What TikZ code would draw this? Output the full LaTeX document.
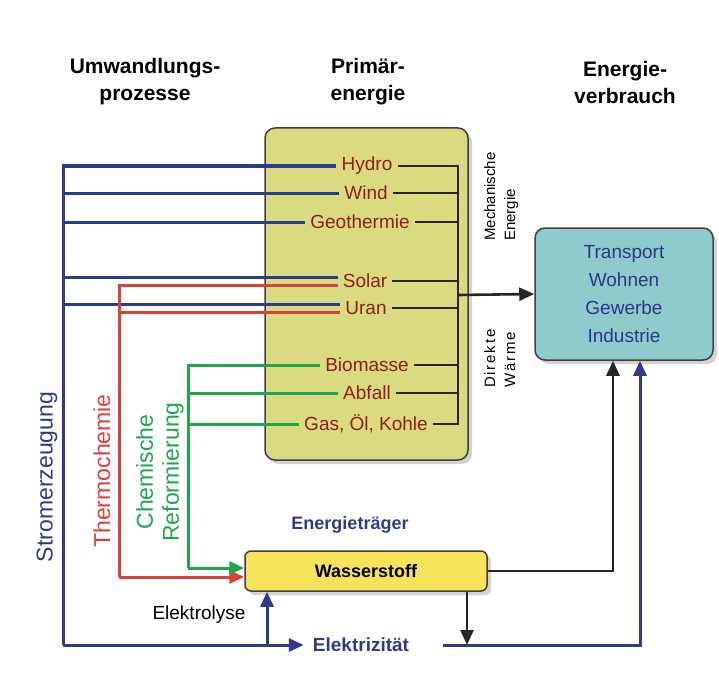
\documentclass[tikz,border=0pt]{standalone}
\usepackage{fontspec}
\setmainfont{Liberation Sans}
\usetikzlibrary{arrows.meta,shadows,positioning}

\definecolor{stromblau}{HTML}{2E3A8C}
\definecolor{thermorot}{HTML}{D9413A}
\definecolor{reformgruen}{HTML}{1FA64E}
\definecolor{quelltext}{HTML}{8E1F1F}
\definecolor{primgelb}{HTML}{DADA80}
\definecolor{verbtuerkis}{HTML}{8FCACC}
\definecolor{wstoffgelb}{HTML}{F6E35C}
\definecolor{verbtext}{HTML}{2E3585}

\tikzset{
  head/.style={font=\bfseries\fontsize{21}{27}\selectfont, align=center},
  quelle/.style={text=quelltext, font=\fontsize{19}{22}\selectfont, inner sep=5pt},
  box/.style={draw=black!75, line width=1.5pt, rounded corners=10pt,
    drop shadow={shadow xshift=4pt, shadow yshift=-4pt, opacity=0.35}},
  strom/.style={draw=stromblau, line width=3pt},
  thermo/.style={draw=thermorot, line width=3pt},
  reform/.style={draw=reformgruen, line width=3pt},
  mech/.style={draw=black!85, line width=2.6pt},
  spitze/.style={-{Triangle[length=15pt,width=13pt]}},
  prozess/.style={rotate=90, font=\fontsize{23}{27}\selectfont},
}

\begin{document}
\begin{tikzpicture}[x=1pt,y=-1pt]
\useasboundingbox (0,0) rectangle (719,679);

\node[head] (hprozess) at (145,82) {Umwandlungs-\\prozesse};
\node[head] (hprimaer) at (368,82) {Primär-\\energie};
\node[head] (hverbrauch) at (625,82) {Energie-\\verbrauch};

\node[box, fill=primgelb, minimum width=203pt, minimum height=332pt] (prim) at (366.5,294) {};
\node[box, fill=verbtuerkis, minimum width=178pt, minimum height=132pt, text=verbtext,
  font=\fontsize{19}{28}\selectfont, align=center] (verb) at (624,294) {Transport\\Wohnen\\Gewerbe\\Industrie};
\node[box, rounded corners=6pt, fill=wstoffgelb, minimum width=242pt, minimum height=40pt,
  font=\bfseries\fontsize{18}{22}\selectfont] (h2) at (366,571) {Wasserstoff};

% Primaerenergie
\node[quelle] (hydro) at (367,166) {Hydro};
\node[quelle] (wind) at (366,193) {Wind};
\node[quelle] (geo) at (360,222) {Geothermie};
\node[quelle] (solar) at (365,281) {Solar};
\node[quelle] (uran) at (366,308) {Uran};
\node[quelle] (bio) at (367,365) {Biomasse};
\node[quelle] (abfall) at (367,393) {Abfall};
\node[quelle] (fossil) at (366,424) {Gas, Öl, Kohle};

\node[font=\bfseries\fontsize{18}{22}\selectfont, text=stromblau] (traeger) at (350,525) {Energieträger};
\node[font=\bfseries\fontsize{19}{22}\selectfont, text=stromblau, inner xsep=9pt] (elek) at (361,645) {Elektrizität};
\node[font=\fontsize{19}{22}\selectfont] (lysetext) at (199,615) {Elektrolyse};

\node[prozess, text=stromblau] (stromtext) at (47,477) {Stromerzeugung};
\node[prozess, text=thermorot] (thermotext) at (102,471) {Thermochemie};
\node[prozess, text=reformgruen, align=center, font=\fontsize{23}{26}\selectfont] (reformtext) at (160,472) {Chemische\\Reformierung};

\node[rotate=90, anchor=north west, align=left, inner sep=0pt,
  font=\fontsize{15}{20}\selectfont] (mechtext) at (484,241) {Mechanische\\Energie};
\node[rotate=90, anchor=north west, align=left, inner sep=0pt,
  font=\fontsize{15}{20}\selectfont\addfontfeatures{LetterSpace=12}] (waermetext) at (484,388) {Direkte\\Wärme};

\coordinate (stromecke) at (63,645);
\coordinate (thermoecke) at (119,577);
\coordinate (reformecke) at (188,568);
\coordinate (bus) at (458,295);
\coordinate (lyse) at (267,645);
\coordinate (zelle) at (467,645);
\coordinate (elekweiter) at (443,645);

% Stromerzeugung
\foreach \q in {hydro,wind,geo}
  \draw[strom] (\q.west) -| (stromecke);
\foreach \q in {solar,uran}
  \draw[strom] ([yshift=4pt]\q.west) -| (stromecke);
\draw[strom,spitze] (stromecke) -- (elek.west);
\draw[strom,spitze] (lyse) -- (lyse |- h2.south);
\draw[strom,spitze] (elekweiter) -| ([xshift=16pt]verb.south);

% Thermochemie
\foreach \q in {solar,uran}
  \draw[thermo] ([yshift=-4pt]\q.west) -| (thermoecke);
\draw[thermo,spitze] (thermoecke) -- (thermoecke -| h2.west);

% Reformierung
\foreach \q in {bio,abfall,fossil}
  \draw[reform] (\q.west) -| (reformecke);
\draw[reform,spitze] (reformecke) -- (reformecke -| h2.west);

% Mechanische Energie / Waerme
\draw[mech] (hydro.east) -| (bus) |- (fossil.east);
\foreach \q in {wind,geo,solar,uran,bio,abfall}
  \draw[mech] (\q.east) -- (\q.east -| bus);
\draw[mech,spitze] (bus) -- (verb.west);

\draw[mech,spitze] (h2.east) -| ([xshift=-11pt]verb.south);
\draw[mech,spitze] (zelle |- h2.south) -- (zelle);
\end{tikzpicture}
\end{document}
